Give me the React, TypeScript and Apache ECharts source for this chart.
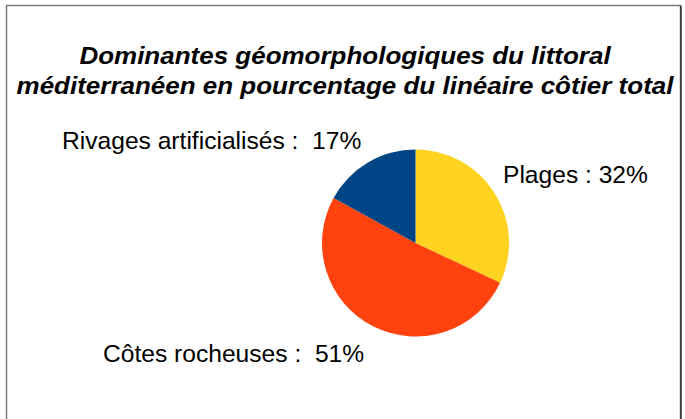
import React, { useEffect, useRef } from "react";
import * as echarts from "echarts";

const titleLines = [
  "Dominantes géomorphologiques du littoral",
  "méditerranéen en pourcentage du linéaire côtier total",
];
const categories = ["Plages", "Côtes rocheuses", "Rivages artificialisés"];
const values = [32, 51, 17];
const sliceColors = ["#FFD320", "#FF420E", "#004586"];
const labelSeparators = [" : ", " :  ", " :  "];

// label anchor positions (left x, middle y) per slice
const labelAnchors = [
  [503, 174],
  [103, 353],
  [62, 140],
];

export default function App() {
  const ref = useRef<HTMLDivElement>(null);
  useEffect(() => {
    if (!ref.current) return;
    const chart = echarts.init(ref.current, null, { renderer: "svg" });
    chart.setOption({
      animation: false,
      backgroundColor: "#ffffff",
      graphic: [
        {
          type: "rect",
          shape: { x: 6.5, y: 5.5, width: 674, height: 440 },
          style: { fill: "none", stroke: "#7a7a7a", lineWidth: 1.5 },
          silent: true,
        },
        {
          type: "line",
          shape: { x1: 681, y1: 6, x2: 681, y2: 419 },
          style: { stroke: "#111", lineWidth: 1.2 },
          silent: true,
        },
        ...titleLines.map((t, i) => ({
          type: "text",
          x: 345,
          y: i === 0 ? 55 : 85,
          scaleX: 1.13,
          scaleY: 1.04,
          style: {
            text: t,
            x: 0,
            y: 0,
            align: "center",
            verticalAlign: "middle",
            fill: "#000",
            font: "italic bold 23px 'Liberation Sans', Arial, sans-serif",
          },
          silent: true,
        })),
      ],
      series: [
        {
          type: "pie",
          center: [415.5, 243],
          radius: 93.5,
          startAngle: 90,
          clockwise: true,
          silent: true,
          data: categories.map((c, i) => ({
            name: c,
            value: values[i],
            itemStyle: { color: sliceColors[i] },
            label: {
              formatter: c + labelSeparators[i] + values[i] + "%",
            },
          })),
          label: {
            show: true,
            position: "outside",
            color: "#000",
            fontFamily: "'Liberation Sans', Arial, sans-serif",
            fontSize: 24.6,
            overflow: "none",
          },
          labelLine: { show: false },
          labelLayout: (p: any) => ({
            x: labelAnchors[p.dataIndex][0],
            y: labelAnchors[p.dataIndex][1],
            align: "left",
            verticalAlign: "middle",
          }),
        },
      ],
    });
    return () => chart.dispose();
  }, []);
  return (
    <div
      ref={ref}
      style={{ position: "fixed", left: 0, top: 0, width: 685, height: 419 }}
    />
  );
}
